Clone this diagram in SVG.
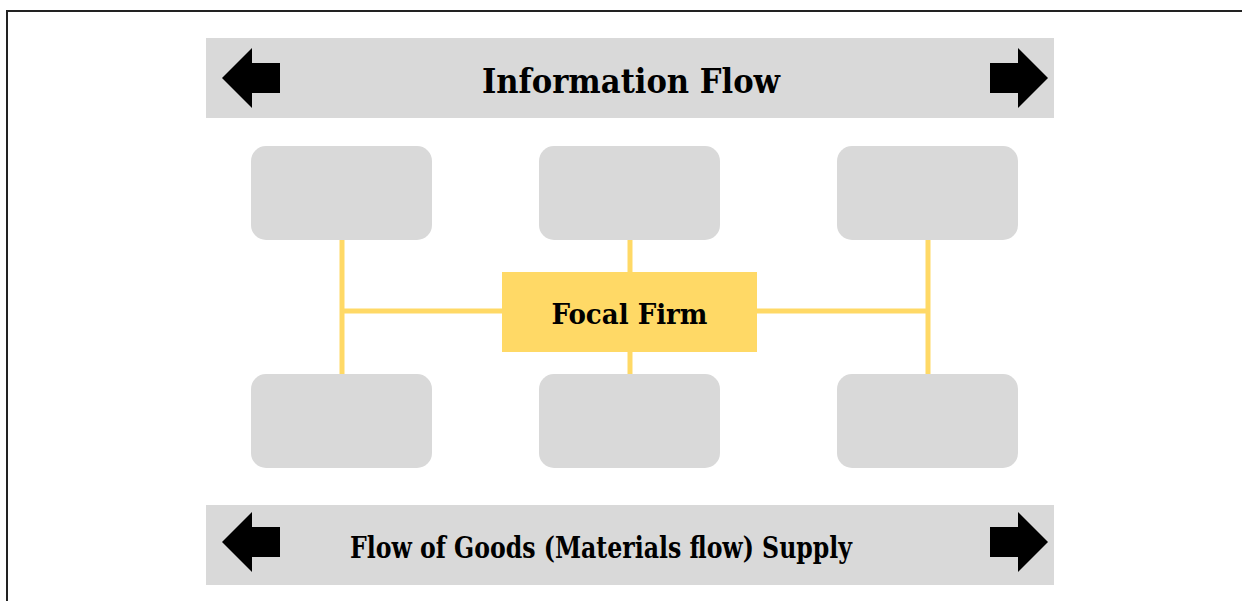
<svg xmlns="http://www.w3.org/2000/svg" width="1242" height="601" viewBox="0 0 1242 601">
  <style>
    .band { fill: #d9d9d9; }
    .box { fill: #d9d9d9; }
    .focal { fill: #ffd966; }
    .arrow { fill: #000000; }
    .link { stroke: #ffd966; stroke-width: 5; fill: none; }
    .label { font-family: "DejaVu Serif Condensed", "DejaVu Serif", serif; font-weight: bold; fill: #000000; text-anchor: middle; }
  </style>
  <defs>
    <path id="arrow-left" d="M -30 0 L 0 -30 L 0 -15 L 28 -15 L 28 15 L 0 15 L 0 30 Z"/>
    <path id="arrow-right" d="M 30 0 L 0 -30 L 0 -15 L -28 -15 L -28 15 L 0 15 L 0 30 Z"/>
  </defs>

  <rect width="1242" height="601" fill="#ffffff"/>

  <!-- frame -->
  <path d="M 7 601 L 7 11 L 1242 11" fill="none" stroke="#222222" stroke-width="2"/>

  <!-- information flow band -->
  <g id="info-flow">
    <rect class="band" x="206" y="38" width="848" height="80"/>
    <use class="arrow" href="#arrow-left" x="252" y="78"/>
    <use class="arrow" href="#arrow-right" x="1018" y="78"/>
    <text class="label" x="631" y="93" font-size="33" textLength="298" lengthAdjust="spacingAndGlyphs">Information Flow</text>
  </g>

  <!-- connectors -->
  <g id="connectors" class="link">
    <line x1="342" y1="240" x2="342" y2="374"/>
    <line x1="342" y1="311" x2="502" y2="311"/>
    <line x1="928" y1="240" x2="928" y2="374"/>
    <line x1="757" y1="311" x2="928" y2="311"/>
    <line x1="630" y1="240" x2="630" y2="272"/>
    <line x1="630" y1="352" x2="630" y2="374"/>
  </g>

  <!-- partner nodes -->
  <g id="node-top-left"><rect class="box" x="251" y="146" width="181" height="94" rx="15"/></g>
  <g id="node-top-middle"><rect class="box" x="539" y="146" width="181" height="94" rx="15"/></g>
  <g id="node-top-right"><rect class="box" x="837" y="146" width="181" height="94" rx="15"/></g>
  <g id="node-bottom-left"><rect class="box" x="251" y="374" width="181" height="94" rx="15"/></g>
  <g id="node-bottom-middle"><rect class="box" x="539" y="374" width="181" height="94" rx="15"/></g>
  <g id="node-bottom-right"><rect class="box" x="837" y="374" width="181" height="94" rx="15"/></g>

  <!-- focal firm -->
  <g id="focal-firm">
    <rect class="focal" x="502" y="272" width="255" height="80"/>
    <text class="label" x="629.5" y="323.5" font-size="28" textLength="156" lengthAdjust="spacingAndGlyphs">Focal Firm</text>
  </g>

  <!-- goods flow band -->
  <g id="goods-flow">
    <rect class="band" x="206" y="505" width="848" height="80"/>
    <use class="arrow" href="#arrow-left" x="252" y="542"/>
    <use class="arrow" href="#arrow-right" x="1018" y="542"/>
    <text class="label" x="601" y="557.5" font-size="30" textLength="502" lengthAdjust="spacingAndGlyphs">Flow of Goods (Materials flow) Supply</text>
  </g>
</svg>
